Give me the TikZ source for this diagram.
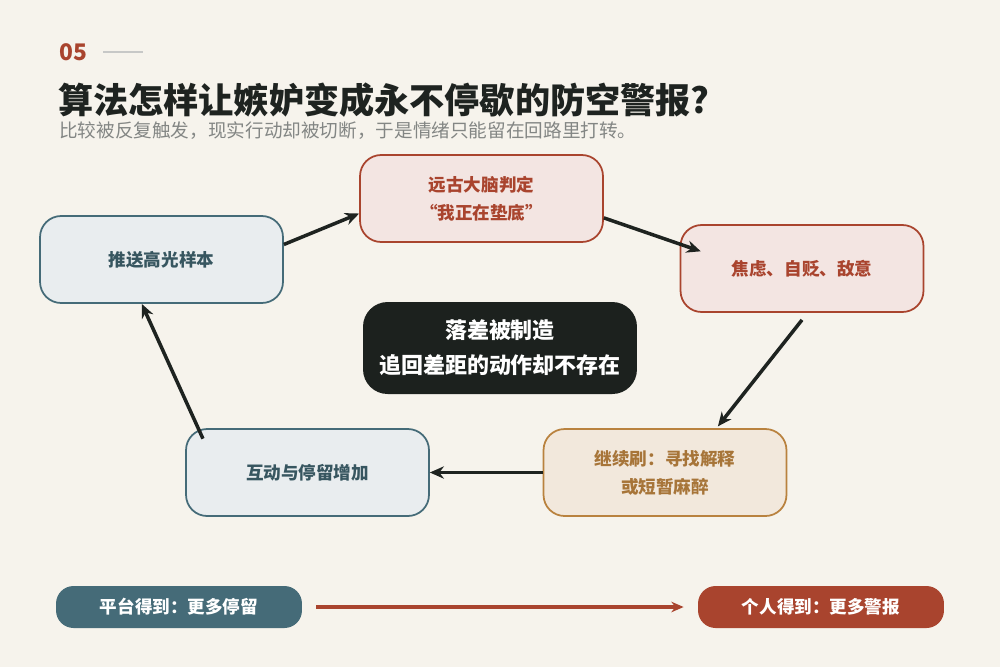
\documentclass[tikz,border=0pt]{standalone}
\usepackage{fontspec}
\setmainfont{Noto Sans CJK SC}
\usetikzlibrary{positioning,calc,arrows.meta}
\definecolor{bgc}{HTML}{F6F3EC}
\definecolor{ink}{HTML}{1E2320}
\definecolor{rust}{HTML}{A9442E}
\definecolor{slate}{HTML}{456B78}
\definecolor{ochre}{HTML}{B9823F}
\tikzset{
  box/.style={rectangle, rounded corners=12pt, draw, line width=1pt, minimum width=4.86cm, minimum height=1.74cm, align=center, font=\bfseries\fontsize{10}{16}\selectfont},
  cool/.style={box, fill=slate!12, draw=slate, text=slate!80!black},
  warm/.style={box, fill=rust!14, draw=rust, text=rust},
  sand/.style={box, fill=ochre!18, draw=ochre, text=ochre!90!black},
  pill/.style={rectangle, rounded corners=10pt, minimum width=4.92cm, minimum height=0.84cm, text=white, font=\bfseries\fontsize{10}{12}\selectfont},
  flow/.style={-{Stealth[length=8pt,width=7pt]}, line width=2pt, draw=ink}
}
\begin{document}
\begin{tikzpicture}[x=0.02cm, y=-0.02cm]
    \fill[bgc] (0,0) rectangle (1000,667);
    \node[anchor=west, text=rust, font=\bfseries\fontsize{13}{16}\selectfont] (num) at (53,52) {05};
    \draw[ink!25, line width=0.8pt] (103,52) -- (143,52);
    \node[anchor=west, text=ink, font=\bfseries\fontsize{20}{24}\selectfont] (title) at (52,100) {算法怎样让嫉妒变成永不停歇的防空警报?};
    \node[anchor=west, text=ink!55, font=\fontsize{10.6}{13}\selectfont] (sub) at (53,131) {比较被反复触发，现实行动却被切断，于是情绪只能留在回路里打转。};

    \node[cool] (push) at (161.5,259.5) {推送高光样本};
    \node[warm] (brain) at (481.5,198.5) {远古大脑判定\\“我正在垫底”};
    \node[warm] (anx) at (802,268.5) {焦虑、自贬、敌意};
    \node[sand] (cont) at (665,472.5) {继续刷：寻找解释\\或短暂麻醉};
    \node[cool] (inter) at (307.5,472.5) {互动与停留增加};
    \node[rectangle, rounded corners=14pt, fill=ink!95!black, text=white, minimum width=5.48cm, minimum height=1.84cm, align=center, font=\bfseries\fontsize{12.5}{20}\selectfont] (core) at (500,348) {落差被制造\\追回差距的动作却不存在};

    \draw[flow] (push.7) -- (brain.187);
    \draw[flow] (brain.-9) -- ([xshift=12pt]anx.172);
    \draw[flow] ([yshift=-4pt]anx.south) -- ([yshift=1pt]cont.40);
    \draw[flow] (cont.west) -- (inter.east);
    \draw[flow] ([yshift=-6pt]inter.157) -- (push.246);

    \node[pill, fill=slate] (plat) at (179,607) {平台得到：更多停留};
    \node[pill, fill=rust] (self) at (821,607) {个人得到：更多警报};
    \draw[-{Stealth[length=7pt,width=6pt]}, line width=1.8pt, draw=rust] ([xshift=8pt]plat.east) -- ([xshift=-8pt]self.west);
\end{tikzpicture}
\end{document}
